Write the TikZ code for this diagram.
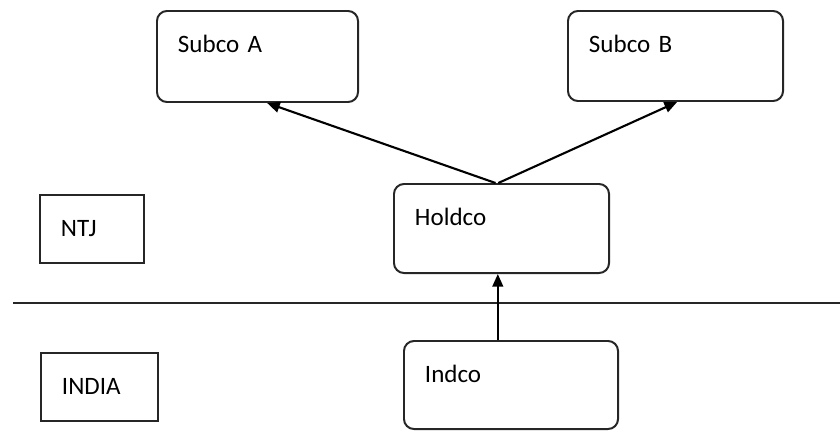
\documentclass[tikz,border=0pt]{standalone}
\usepackage{fontspec}
\setmainfont{Carlito}
\usetikzlibrary{arrows.meta}
\begin{document}
\begin{tikzpicture}[x=0.025cm,y=-0.025cm,
    font=\fontsize{17.8}{20}\selectfont,
    every node/.style={anchor=north west,align=left,inner xsep=0.525cm,
      inner ysep=0pt,text height=1.025cm,line width=1.4pt,draw=black!85},
    firm/.style 2 args={rounded corners=0.25cm,text width=#1,text depth=#2},
    region/.style 2 args={text width=#1,text depth=#2}]
  \useasboundingbox (0,0) rectangle (840,430);
  \draw
    (156,10) node[firm={3.975cm}{1.25cm}] (SubcoA){Subco A}
    (567,10) node[firm={4.325cm}{1.225cm}] (SubcoB){Subco B}
    (393,183) node[firm={4.325cm}{1.2cm}] (Holdco){Holdco}
    (403,340) node[firm={4.3cm}{1.175cm}] (Indco){Indco}
    (39,194) node[region={1.55cm}{0.675cm}] (NTJ){NTJ}
    (40,352) node[region={1.875cm}{0.675cm}] (INDIA){INDIA};
  \draw[line width=1.2pt,black!85] (13,303) -- (840,303);
  \begin{scope}[-{Triangle[length=9pt,width=7.6pt]},line width=1.5pt]
    \draw ([xshift=-0.15cm]Holdco.north) to ([xshift=0.24cm]SubcoA.south);
    \draw ([xshift=-0.08cm]Holdco.north) to ([xshift=0.04cm]SubcoB.south);
    \draw ([xshift=-0.33cm]Indco.north) to ([xshift=-0.33cm]Indco.north |- Holdco.south);
  \end{scope}
\end{tikzpicture}
\end{document}
